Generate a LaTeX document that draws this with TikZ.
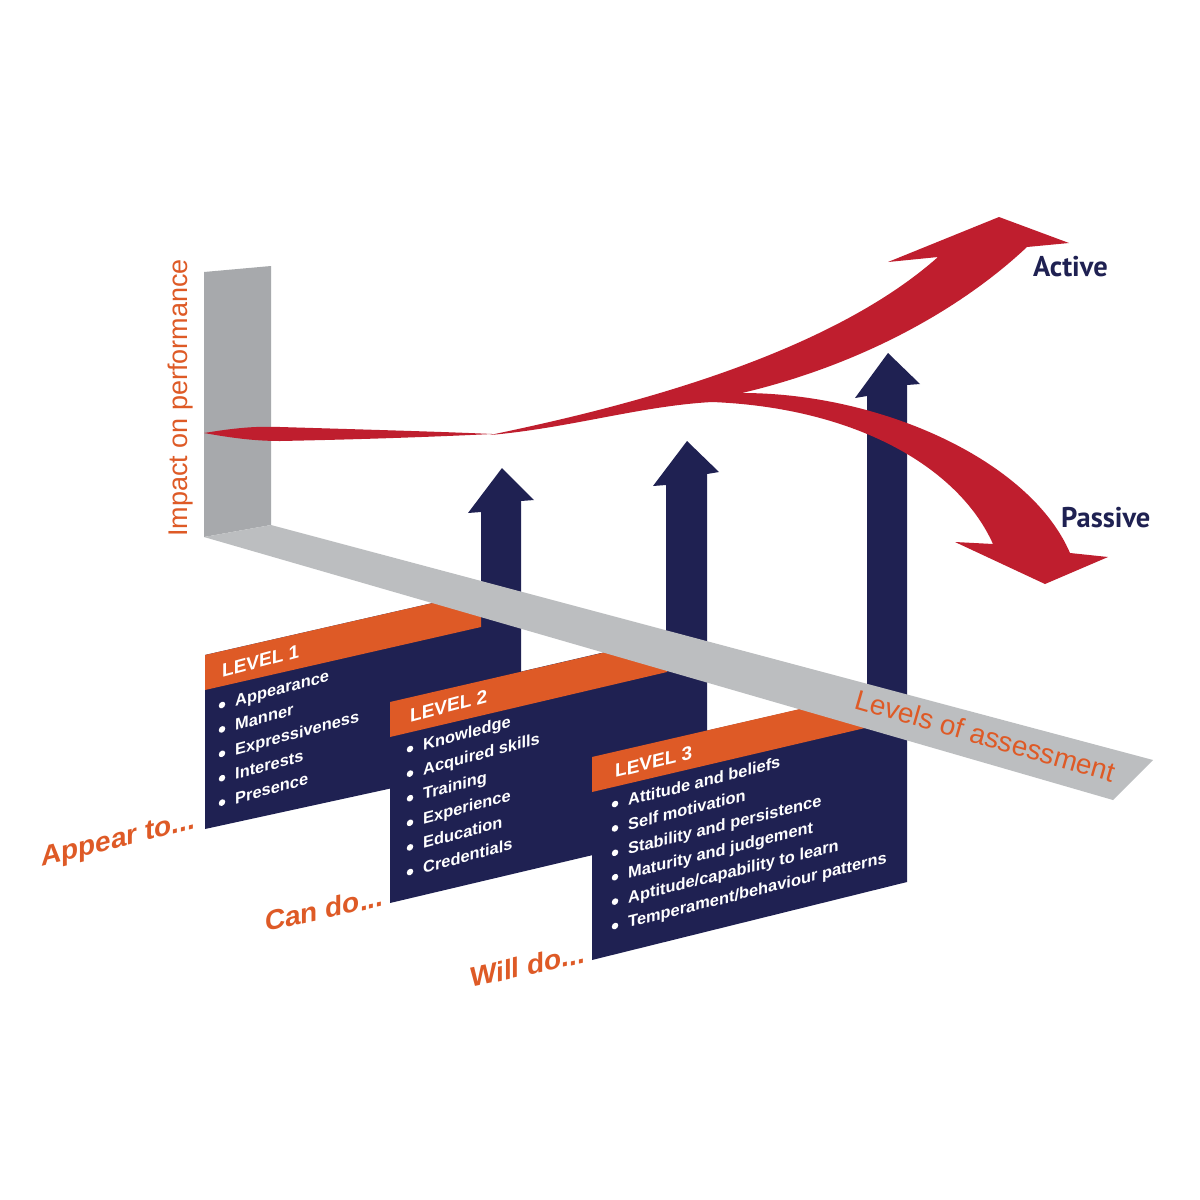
\documentclass[tikz,border=0pt]{standalone}
\usepackage{fontspec}
\setmainfont{Liberation Sans}
\newfontfamily\ptsans{PT Sans}
\definecolor{navy}{RGB}{31,33,82}
\definecolor{orng}{RGB}{222,90,38}
\definecolor{redc}{RGB}{191,30,46}
\definecolor{wallgray}{RGB}{167,169,172}
\definecolor{stripgray}{RGB}{188,190,192}
\begin{document}
\begin{tikzpicture}[x=1pt,y=-1pt,
  item/.style={anchor=base west, inner sep=0, text=white, font=\bfseries\fontsize{16.4}{18}\selectfont},
  bul/.style={circle, fill=white, inner sep=0, minimum size=6.5pt},
  lvl/.style={anchor=base west, inner sep=0, text=white, font=\bfseries\fontsize{19}{22}\selectfont},
  lab/.style={anchor=base west, inner sep=0, text=orng, font=\bfseries\fontsize{28}{30}\selectfont},
  axis/.style={inner sep=0, text=orng, font=\fontsize{27}{30}\selectfont},
  outcome/.style={anchor=base west, inner sep=0, text=navy, font=\ptsans\bfseries\fontsize{28.5}{30}\selectfont}]
\useasboundingbox (0,0) rectangle (1200,1200);
\fill[white] (0,0) rectangle (1200,1200);
% wall
\fill[wallgray] (204,272) -- (271,266) -- (271,525) -- (204,537) -- cycle;
% level 1 panel
\fill[navy] (205,655) -- (481,592) -- (481,512) -- (468,513) -- (502,468) -- (534,500) -- (521,501) -- (521,760) -- (205,829) -- cycle;
\fill[orng] (205,655) -- (481,592) -- (481,627) -- (205,690) -- cycle;
% level 2 panel
\fill[navy] (390,702) -- (666,638) -- (666,485) -- (653,486) -- (687,441) -- (719,472) -- (707,474) -- (707,828) -- (390,903) -- cycle;
\fill[orng] (390,702) -- (667,638) -- (667,672) -- (390,737) -- cycle;
% level 3 panel
\fill[navy] (592,757) -- (867,694) -- (867,396) -- (855,398) -- (888,353) -- (920,384) -- (907,385) -- (907,882) -- (592,960) -- cycle;
\fill[orng] (592,757) -- (865,694) -- (865,728) -- (592,792) -- cycle;
% floor strip
\fill[stripgray] (204,537) -- (271,525) -- (1153,760) -- (1113,800) -- cycle;
\node[axis, anchor=base west, rotate=-16, font=\fontsize{28}{30}\selectfont] (levels) at (853,708) {Levels of assessment};
\node[axis, anchor=base, rotate=90] (impact) at (187,398) {Impact on performance};
% red twist
\fill[redc] (204,433) .. controls (235,428) and (255,426) .. (280,427) .. controls (380,430) and (450,432) .. (492,434) .. controls (450,436) and (380,439) .. (280,441) .. controls (255,441) and (232,438) .. (204,433) -- cycle;
% red main arrows
\fill[redc] (490,435) .. controls (600,412) and (820,362) .. (938,257)
  -- (888,262) -- (999,217) -- (1069,243) -- (1027,247)
  .. controls (960,310) and (860,365) .. (742,393)
  .. controls (880,393) and (1030,460) .. (1070,553)
  -- (1108,557) -- (1045,584) -- (955,542) -- (993,544)
  .. controls (960,470) and (860,408) .. (712,402)
  .. controls (640,406) and (570,428) .. (490,435) -- cycle;
\node[outcome] (active) at (1033,276) {Active};
\node[outcome] (passive) at (1061,527) {Passive};
% level 1 text
\begin{scope}[shift={(222,710)}, yslant=0.27, transform shape]
  \node[lvl] (lv1) at (0,-32) {LEVEL 1};
  \node[bul] (ba1) at (0,-5) {};      \node[item] (a1) at (13,0) {Appearance};
  \node[bul] (ba2) at (0,19.4) {};    \node[item] (a2) at (13,24.4) {Manner};
  \node[bul] (ba3) at (0,43.8) {};    \node[item] (a3) at (13,48.8) {Expressiveness};
  \node[bul] (ba4) at (0,68.2) {};    \node[item] (a4) at (13,73.2) {Interests};
  \node[bul] (ba5) at (0,92.6) {};    \node[item] (a5) at (13,97.6) {Presence};
\end{scope}
% level 2 text
\begin{scope}[shift={(410,754)}, yslant=0.27, transform shape]
  \node[lvl] (lv2) at (0,-31) {LEVEL 2};
  \node[bul] (bb1) at (0,-5) {};      \node[item] (c1) at (13,0) {Knowledge};
  \node[bul] (bb2) at (0,19.6) {};    \node[item] (c2) at (13,24.6) {Acquired skills};
  \node[bul] (bb3) at (0,44.2) {};    \node[item] (c3) at (13,49.2) {Training};
  \node[bul] (bb4) at (0,68.8) {};    \node[item] (c4) at (13,73.8) {Experience};
  \node[bul] (bb5) at (0,93.4) {};    \node[item] (c5) at (13,98.4) {Education};
  \node[bul] (bb6) at (0,118) {};     \node[item] (c6) at (13,123) {Credentials};
\end{scope}
% level 3 text
\begin{scope}[shift={(615,809)}, yslant=0.25, transform shape]
  \node[lvl] (lv3) at (0,-31) {LEVEL 3};
  \node[bul] (bc1) at (0,-5) {};      \node[item] (w1) at (13,0) {Attitude and beliefs};
  \node[bul] (bc2) at (0,19.4) {};    \node[item] (w2) at (13,24.4) {Self motivation};
  \node[bul] (bc3) at (0,43.8) {};    \node[item] (w3) at (13,48.8) {Stability and persistence};
  \node[bul] (bc4) at (0,68.2) {};    \node[item] (w4) at (13,73.2) {Maturity and judgement};
  \node[bul] (bc5) at (0,92.6) {};    \node[item] (w5) at (13,97.6) {Aptitude/capability to learn};
  \node[bul] (bc6) at (0,117) {};     \node[item] (w6) at (13,122) {Temperament/behaviour patterns};
\end{scope}
% side labels
\begin{scope}[shift={(41,867)}, yslant=0.25, transform shape]
  \node[lab] (appear) at (0,0) {Appear to...};
\end{scope}
\begin{scope}[shift={(265,932)}, yslant=0.22, transform shape]
  \node[lab] (cando) at (0,0) {Can do...};
\end{scope}
\begin{scope}[shift={(470,988)}, yslant=0.22, transform shape]
  \node[lab] (willdo) at (0,0) {Will do...};
\end{scope}
\end{tikzpicture}
\end{document}
